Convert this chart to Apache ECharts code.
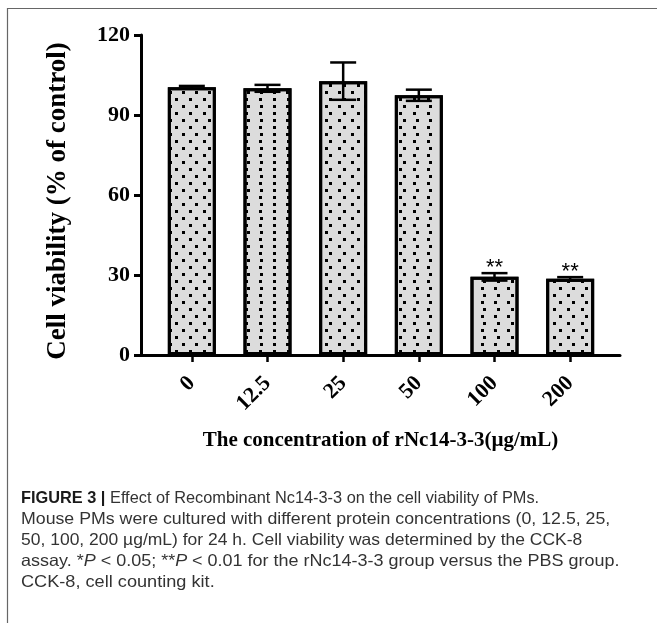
<!DOCTYPE html>
<html>
<head>
<meta charset="utf-8">
<script src="https://cdn.jsdelivr.net/npm/echarts@6/dist/echarts.min.js"></script>
<style>
  html, body { margin: 0; padding: 0; background: #fff; }
  #chart { width: 657px; height: 623px; }
</style>
</head>
<body>
<div id="chart"></div>
<script>
// concentrations (µg/mL)
const categories = ['0', '12.5', '25', '50', '100', '200']
// cell viability mean (% of control)
const viability = [100.4, 100.0, 102.7, 97.4, 29.3, 28.6]
// error bar half length
const errors = [0.5, 1.3, 7.0, 2.1, 1.4, 0.6]
// significance marks
const marks = ['', '', '', '', '**', '**']
const yTicks = [0, 30, 60, 90, 120]

const captionLines = [
  '{b|FIGURE 3 |} Effect of Recombinant Nc14-3-3 on the cell viability of PMs.',
  'Mouse PMs were cultured with different protein concentrations (0, 12.5, 25,',
  '50, 100, 200 µg/mL) for 24 h. Cell viability was determined by the CCK-8',
  'assay. *{i|P} < 0.05; **{i|P} < 0.01 for the rNc14-3-3 group versus the PBS group.',
  'CCK-8, cell counting kit.',
]
// horizontal stretch per caption line (the original face is a condensed one)
const captionStretch = [0.99, 1.075, 1.06, 1.09, 1.1]

const serif = '"Liberation Serif", "Times New Roman", serif'
const sans = '"Liberation Sans", Arial, sans-serif'
const chart = echarts.init(document.getElementById('chart'))

const errData = categories.map((c, i) => [i, viability[i], errors[i], marks[i]])

const renderErr = (params, api) => {
  const i = api.value(0)
  const m = api.value(1)
  const e = api.value(2)
  const top = api.coord([i, m + e])
  const bot = api.coord([i, m - e])
  const half = 13
  const line = { stroke: '#000', lineWidth: 2.5 }
  const children = [
    { type: 'line', shape: { x1: top[0], y1: top[1], x2: bot[0], y2: bot[1] }, style: line },
    { type: 'line', shape: { x1: top[0] - half, y1: top[1], x2: top[0] + half, y2: top[1] }, style: line },
    { type: 'line', shape: { x1: bot[0] - half, y1: bot[1], x2: bot[0] + half, y2: bot[1] }, style: line },
  ]
  const mark = errData[params.dataIndex][3]
  if (mark) {
    children.push({
      type: 'text',
      style: {
        text: mark, x: top[0], y: top[1] + 6, align: 'center', verticalAlign: 'bottom',
        font: '22px ' + sans, fill: '#000',
      },
    })
  }
  return { type: 'group', children }
}

// caption under the chart
const captionGraphics = captionLines.map((t, k) => ({
  type: 'text',
  x: 21,
  y: 498 + k * 21,
  scaleX: captionStretch[k],
  style: {
    text: t,
    x: 0,
    y: 0,
    verticalAlign: 'middle',
    font: '16.5px ' + sans,
    fill: '#333',
    rich: {
      b: { font: 'bold 16.5px ' + sans, fill: '#1a1a1a' },
      i: { font: 'italic 16.5px ' + sans, fill: '#333' },
    },
  },
}))

const option = {
  animation: false,
  backgroundColor: '#fff',
  grid: [
    { left: 154, right: 49, top: 35, bottom: 268 },
    { left: 141, right: 37, top: 35, bottom: 268 },
  ],
  xAxis: [
    {
      type: 'category',
      gridIndex: 0,
      data: categories,
      axisLine: { show: false },
      axisTick: { show: true, alignWithLabel: true, length: 7, lineStyle: { color: '#000', width: 2.5 } },
      axisLabel: { rotate: 45, margin: 25, color: '#000', fontFamily: serif, fontWeight: 'bold', fontSize: 22 },
    },
    {
      type: 'value',
      gridIndex: 1,
      min: 0,
      max: 1,
      name: 'The concentration of rNc14-3-3(µg/mL)',
      nameLocation: 'middle',
      nameGap: 75,
      nameTextStyle: { color: '#000', fontFamily: serif, fontWeight: 'bold', fontSize: 21 },
      axisLine: { show: true, lineStyle: { color: '#000', width: 3 } },
      axisTick: { show: false },
      axisLabel: { show: false },
      splitLine: { show: false },
    },
  ],
  yAxis: [
    {
      type: 'value',
      gridIndex: 0,
      min: 0,
      max: 120,
      interval: 30,
      show: false,
    },
    {
      type: 'value',
      gridIndex: 1,
      min: yTicks[0],
      max: yTicks[yTicks.length - 1],
      interval: 30,
      name: 'Cell viability (% of control)',
      nameLocation: 'middle',
      nameGap: 69,
      nameTextStyle: { color: '#000', fontFamily: serif, fontWeight: 'bold', fontSize: 27, padding: [0, 12, 0, 0] },
      axisLine: { show: true, lineStyle: { color: '#000', width: 3 } },
      axisTick: { show: true, length: 7, lineStyle: { color: '#000', width: 3 } },
      axisLabel: { margin: 11, color: '#000', fontFamily: serif, fontWeight: 'bold', fontSize: 22 },
      splitLine: { show: false },
    },
  ],
  series: [
    {
      type: 'bar',
      xAxisIndex: 0,
      yAxisIndex: 0,
      data: viability,
      barWidth: 48,
      itemStyle: {
        color: '#dcdcdc',
        borderColor: '#000',
        borderWidth: 3,
        decal: {
          symbol: 'rect',
          symbolSize: 1,
          color: '#000',
          backgroundColor: 'transparent',
          dashArrayX: [[3, 10], [0, 6.5, 3, 3.5]],
          dashArrayY: [3, 3.5],
          rotation: 0,
        },
      },
    },
    {
      type: 'custom',
      xAxisIndex: 0,
      yAxisIndex: 0,
      data: errData,
      renderItem: renderErr,
      z: 5,
    },
  ],
  graphic: [
    { type: 'line', shape: { x1: 7.5, y1: 8, x2: 7.5, y2: 623 }, style: { stroke: '#666', lineWidth: 1.2 } },
    { type: 'line', shape: { x1: 7, y1: 8.5, x2: 657, y2: 8.5 }, style: { stroke: '#666', lineWidth: 1.2 } },
    ...captionGraphics,
  ],
}

chart.setOption(option)
</script>
</body>
</html>
